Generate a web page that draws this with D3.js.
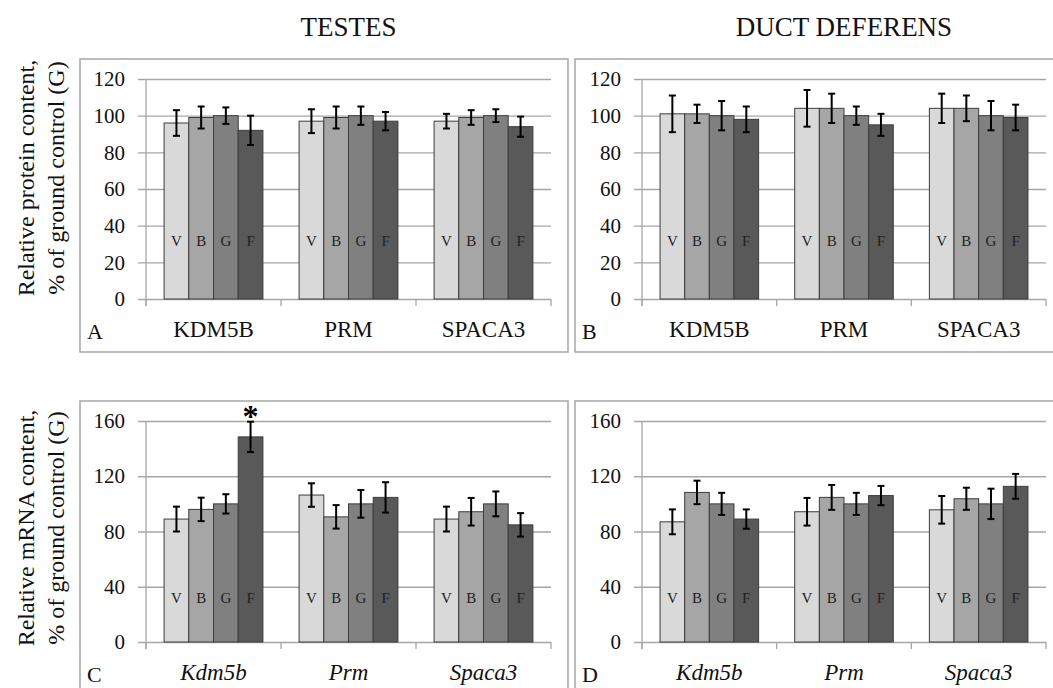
<!DOCTYPE html>
<html>
<head>
<meta charset="utf-8">
<script src="https://cdn.jsdelivr.net/npm/d3@7"></script>
<style>
  html, body { margin: 0; padding: 0; background: #fff; }
  svg { display: block; }
  svg text { font-family: "Liberation Serif", "Times New Roman", serif; }
</style>
</head>
<body>
<svg id="chart" width="1053" height="688" font-family="Liberation Serif, serif"></svg>
<script>
const groups = ["V", "B", "G", "F"];
const groupColors = ["#d9d9d9", "#a6a6a6", "#808080", "#595959"];

const proteinGenes = ["KDM5B", "PRM", "SPACA3"];
const mrnaGenes = ["Kdm5b", "Prm", "Spaca3"];

const proteinTicks = [0, 20, 40, 60, 80, 100, 120];
const mrnaTicks = [0, 40, 80, 120, 160];

// rows = genes, columns = V, B, G, F
const testesProtein = [[96, 99, 100, 92], [97, 99, 100, 97], [97, 99, 100, 94]];
const testesProteinErr = [[7, 6, 4.5, 8], [6.5, 6, 5, 5], [4, 4, 3.5, 5.5]];

const ductProtein = [[101, 101, 100, 98], [104, 104, 100, 95], [104, 104, 100, 99]];
const ductProteinErr = [[10, 5, 8, 7], [10, 8, 5, 6], [8, 7, 8, 7]];

const testesMrna = [[89, 96, 100, 148.5], [106.4, 90.6, 100, 104.7], [89, 94.3, 100, 84.8]];
const testesMrnaErr = [[9, 8.5, 7, 11], [8.5, 8.5, 10, 11], [9, 10, 9, 8.5]];

const ductMrna = [[87, 108.3, 100, 89], [94.3, 104.7, 100, 106], [95.7, 103.7, 100, 112.7]];
const ductMrnaErr = [[9, 8.5, 8, 7], [10, 9, 8, 7], [10, 8, 11, 9]];

const columnTitles = ["TESTES", "DUCT DEFERENS"];
const rowTitles = [
  ["Relative protein content,", "% of ground control (G)"],
  ["Relative mRNA content,", "% of ground control (G)"],
];
const significant = [{ panel: "C", gene: "Kdm5b", group: "F" }];

const GRID = "#a6a6a6";
const FONT = "Liberation Serif, Times New Roman, serif";
const LABEL_VALUE = 32;

const svg = d3.select("#chart");

const panels = [
  { id: "A", genes: proteinGenes, values: testesProtein, errs: testesProteinErr, ticks: proteinTicks,
    frame: [80, 59, 488, 293], plot: [146, 79, 405, 220], italic: false },
  { id: "B", genes: proteinGenes, values: ductProtein, errs: ductProteinErr, ticks: proteinTicks,
    frame: [575, 59, 500, 293], plot: [642, 79, 404, 220], italic: false },
  { id: "C", genes: mrnaGenes, values: testesMrna, errs: testesMrnaErr, ticks: mrnaTicks,
    frame: [80, 401, 488, 320], plot: [146, 421, 405, 221], italic: true },
  { id: "D", genes: mrnaGenes, values: ductMrna, errs: ductMrnaErr, ticks: mrnaTicks,
    frame: [575, 401, 500, 320], plot: [642, 421, 404, 221], italic: true },
];

function drawPanel(p) {
  const [fx, fy, fw, fh] = p.frame;
  const [px, py, pw, ph] = p.plot;

  svg.append("rect")
    .attr("x", fx).attr("y", fy).attr("width", fw).attr("height", fh)
    .attr("fill", "none").attr("stroke", GRID).attr("stroke-width", 1.5);

  const g = svg.append("g").attr("transform", `translate(${px},${py})`);

  const x0 = d3.scaleBand().domain(p.genes).range([0, pw]).padding(0);
  const x1 = d3.scaleBand().domain(groups)
    .range([x0.bandwidth() * 0.134, x0.bandwidth() * 0.866]).padding(0);
  const y = d3.scaleLinear().domain([0, d3.max(p.ticks)]).range([ph, 0]);

  // gridlines + tick labels
  const yAxis = g.append("g")
    .call(d3.axisLeft(y).tickValues(p.ticks).tickSize(-pw - 8).tickPadding(12).tickFormat(d3.format("d")))
    .attr("font-family", FONT);
  yAxis.select(".domain").remove();
  yAxis.selectAll(".tick line").attr("x1", -8).attr("x2", pw).attr("stroke", GRID).attr("stroke-width", 1.3);
  yAxis.selectAll(".tick text")
    .attr("x", -21)
    .attr("font-size", 21).attr("font-family", FONT).attr("fill", "#111");

  g.append("line")
    .attr("x1", 0).attr("x2", 0).attr("y1", 0).attr("y2", ph + 7)
    .attr("stroke", GRID).attr("stroke-width", 1.3);

  g.selectAll(".xtick")
    .data(d3.range(p.genes.length + 1))
    .join("line")
    .attr("x1", (i) => i * x0.bandwidth()).attr("x2", (i) => i * x0.bandwidth())
    .attr("y1", ph).attr("y2", ph + 7)
    .attr("stroke", GRID).attr("stroke-width", 1.3);

  g.selectAll(".xlabel")
    .data(p.genes)
    .join("text")
    .attr("x", (d) => x0(d) + x0.bandwidth() / 2)
    .attr("y", ph + 38)
    .attr("text-anchor", "middle")
    .attr("font-family", FONT)
    .attr("font-size", 23)
    .attr("font-style", p.italic ? "italic" : "normal")
    .attr("fill", "#111")
    .text((d) => d);

  const rows = p.genes.flatMap((gene, gi) =>
    groups.map((grp, k) => ({
      gene, grp, k,
      value: p.values[gi][k],
      err: p.errs[gi][k],
    }))
  );

  const bars = g.selectAll(".bar")
    .data(rows)
    .join("g")
    .attr("transform", (d) => `translate(${x0(d.gene) + x1(d.grp)},0)`);

  bars.append("rect")
    .attr("y", (d) => y(d.value))
    .attr("width", x1.bandwidth())
    .attr("height", (d) => ph - y(d.value))
    .attr("fill", (d) => groupColors[d.k])
    .attr("stroke", "#3c3c3c")
    .attr("stroke-width", 1);

  bars.append("text")
    .attr("x", x1.bandwidth() / 2)
    .attr("y", y(LABEL_VALUE))
    .attr("dy", "0.35em")
    .attr("text-anchor", "middle")
    .attr("font-family", FONT)
    .attr("font-size", 15)
    .attr("fill", "#222")
    .text((d) => d.grp);

  const cx = x1.bandwidth() / 2;
  const cap = 3.5;
  const err = bars.append("g").attr("stroke", "#000").attr("stroke-width", 2);
  err.append("line")
    .attr("x1", cx).attr("x2", cx)
    .attr("y1", (d) => y(d.value + d.err)).attr("y2", (d) => y(d.value - d.err));
  err.append("line")
    .attr("x1", cx - cap).attr("x2", cx + cap)
    .attr("y1", (d) => y(d.value + d.err)).attr("y2", (d) => y(d.value + d.err));
  err.append("line")
    .attr("x1", cx - cap).attr("x2", cx + cap)
    .attr("y1", (d) => y(d.value - d.err)).attr("y2", (d) => y(d.value - d.err));

  bars.filter((d) => significant.some((s) => s.panel === p.id && s.gene === d.gene && s.group === d.grp))
    .append("text")
    .attr("x", cx)
    .attr("y", (d) => y(d.value + d.err) + 5)
    .attr("text-anchor", "middle")
    .attr("font-family", FONT)
    .attr("font-size", 32)
    .attr("font-weight", "bold")
    .attr("fill", "#000")
    .text("*");

  svg.append("text")
    .attr("x", fx + 7)
    .attr("y", py + ph + 40)
    .attr("font-family", FONT)
    .attr("font-size", 22)
    .attr("fill", "#111")
    .text(p.id);
}

panels.forEach(drawPanel);

columnTitles.forEach((t, i) => {
  const [px, , pw] = panels[i].plot;
  svg.append("text")
    .attr("x", px + pw / 2)
    .attr("y", 36)
    .attr("text-anchor", "middle")
    .attr("font-family", FONT)
    .attr("font-size", 27)
    .attr("fill", "#111")
    .text(t);
});

const rowCenters = [178, 528];
rowTitles.forEach((lines, r) => {
  const t = svg.append("text")
    .attr("transform", `translate(34,${rowCenters[r]}) rotate(-90)`)
    .attr("text-anchor", "middle")
    .attr("font-family", FONT)
    .attr("font-size", 24)
    .attr("fill", "#111");
  lines.forEach((line, i) => {
    t.append("tspan").attr("x", 0).attr("y", i * 30).text(line);
  });
});
</script>
</body>
</html>
